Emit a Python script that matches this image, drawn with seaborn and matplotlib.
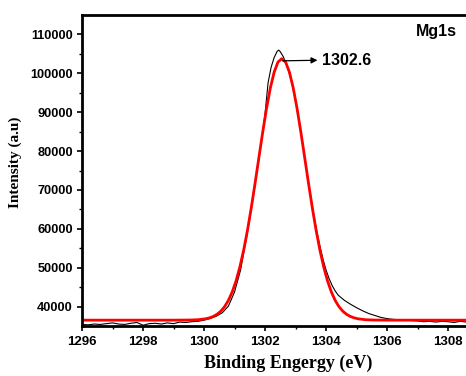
import matplotlib
matplotlib.use("Agg")
import matplotlib.pyplot as plt
from matplotlib.ticker import MultipleLocator
import seaborn as sns
import pandas as pd

# measured spectrum (black)
data_x = [1296.0, 1296.2, 1296.4, 1296.6, 1296.8, 1297.0, 1297.2, 1297.4, 1297.6, 1297.8,
          1298.0, 1298.2, 1298.4, 1298.6, 1298.8, 1299.0, 1299.2, 1299.4, 1299.6, 1299.8,
          1300.0, 1300.2, 1300.4, 1300.6, 1300.8, 1301.0, 1301.2, 1301.4, 1301.6, 1301.8,
          1301.9, 1302.0, 1302.1, 1302.2, 1302.3, 1302.4, 1302.45, 1302.5, 1302.6, 1302.7,
          1302.8, 1302.9, 1303.0, 1303.1, 1303.2, 1303.3, 1303.4, 1303.5, 1303.6, 1303.7,
          1303.8, 1303.9, 1304.0, 1304.1, 1304.2, 1304.3, 1304.4, 1304.6, 1304.8, 1305.0,
          1305.2, 1305.4, 1305.6, 1305.8, 1306.0, 1306.2, 1306.4, 1306.6, 1306.8, 1307.0,
          1307.2, 1307.4, 1307.6, 1307.8, 1308.0, 1308.2, 1308.4, 1308.6, 1308.8, 1309.0]
data_y = [35500, 35400, 35600, 35500, 35700, 35900, 35600, 35500, 35800, 36000,
          35300, 35700, 35800, 35600, 35900, 35700, 36100, 36000, 36200, 36300,
          36600, 37000, 37600, 38500, 40200, 43800, 49500, 58000, 67500, 78000,
          83500, 89500, 97500, 101500, 104000, 105600, 105900, 105500, 104200, 102300,
          99800, 96800, 93000, 88600, 83600, 78600, 73400, 68300, 63500, 59300,
          55600, 52300, 49500, 47300, 45500, 44100, 43000, 41700, 40700, 39800,
          39000, 38300, 37800, 37300, 37000, 36800, 36700, 36600, 36500, 36400,
          36200, 36300, 36100, 36300, 36200, 36000, 36300, 36100, 36200, 36300]

# fitted peak (red)
fit_x = [1296.0, 1299.0, 1299.55, 1299.8, 1300.05, 1300.175, 1300.3, 1300.425, 1300.55,
         1300.675, 1300.8, 1300.925, 1301.05, 1301.175, 1301.3, 1301.425, 1301.55,
         1301.675, 1301.8, 1301.925, 1302.05, 1302.175, 1302.3, 1302.425, 1302.55,
         1302.675, 1302.8, 1302.925, 1303.05, 1303.175, 1303.3, 1303.425, 1303.55,
         1303.675, 1303.8, 1303.925, 1304.05, 1304.175, 1304.3, 1304.425, 1304.55,
         1304.675, 1304.8, 1304.925, 1305.05, 1305.3, 1305.55, 1306.0, 1309.0]
fit_y = [36600, 36600, 36635, 36710, 36945, 37180, 37540, 38090, 38900,
         40060, 41670, 43840, 46670, 50220, 54570, 59680, 65470,
         71780, 78360, 84870, 90950, 96200, 100260, 102830, 103700,
         102830, 100260, 96200, 90950, 84870, 78360, 71780, 65470,
         59680, 54570, 50220, 46670, 43840, 41670, 40060, 38900,
         38090, 37540, 37180, 36945, 36710, 36635, 36600, 36600]

peak_label = "1302.6"
peak_pos = (1302.58, 103150)
arrow_tip = (1303.72, 103300)
label_pos = (1303.86, 103300)

df_data = pd.DataFrame({"x": data_x, "y": data_y})
df_fit = pd.DataFrame({"x": fit_x, "y": fit_y})

sns.set_style("ticks")
plt.rcParams["font.family"] = ["Liberation Sans", "DejaVu Sans"]
plt.rcParams["font.weight"] = "bold"
for key in ["text.color", "axes.labelcolor", "xtick.color", "ytick.color", "axes.edgecolor"]:
    plt.rcParams[key] = "black"

fig = plt.figure(figsize=(4.66, 3.76), dpi=100)
ax = fig.add_axes([0.176, 0.133, 0.824, 0.827])

sns.lineplot(data=df_data, x="x", y="y", color="black", linewidth=0.8,
             estimator=None, sort=False, ax=ax)
sns.lineplot(data=df_fit, x="x", y="y", color="#ff0000", linewidth=2.0,
             estimator=None, sort=False, ax=ax)

ax.set_xlim(1296, 1308.59)
ax.set_ylim(35100, 114900)
ax.xaxis.set_major_locator(MultipleLocator(2))
ax.xaxis.set_minor_locator(MultipleLocator(1))
ax.yaxis.set_major_locator(MultipleLocator(10000))
ax.yaxis.set_minor_locator(MultipleLocator(5000))

for side in ["left", "bottom", "top"]:
    ax.spines[side].set_linewidth(2)
    ax.spines[side].set_color("black")
ax.spines["right"].set_visible(False)

ax.tick_params(axis="both", which="major", direction="out", length=3.5, width=1.2,
               top=False, right=False, colors="black")
ax.tick_params(axis="both", which="minor", direction="out", length=2, width=1.0,
               top=False, right=False, colors="black")
ax.tick_params(axis="x", labelsize=9.5, pad=3.5)
ax.tick_params(axis="y", labelsize=9.2, pad=3)
for lab in ax.get_xticklabels() + ax.get_yticklabels():
    lab.set_fontweight("bold")

ax.set_xlabel("Binding Engergy (eV)", fontsize=13, fontweight="bold",
              family=["Liberation Serif", "DejaVu Serif"], color="black")
ax.set_ylabel("Intensity (a.u)", fontsize=11, fontweight="bold",
              family=["Liberation Serif", "DejaVu Serif"], color="black")
ax.xaxis.set_label_coords(0.536, -0.093)
ax.yaxis.set_label_coords(-0.156, 0.527)

ax.text(label_pos[0], label_pos[1], peak_label, fontsize=11.5,
        fontweight="bold", ha="left", va="center", color="black")
ax.annotate("", xy=arrow_tip, xytext=peak_pos,
            arrowprops=dict(arrowstyle="-|>", color="black", lw=0.9,
                            mutation_scale=9, shrinkA=0, shrinkB=0))
ax.text(1308.3, 110800, "Mg1s", fontsize=11.5, fontweight="bold",
        ha="right", va="center", color="black")

fig.savefig("out.png", dpi=100)
